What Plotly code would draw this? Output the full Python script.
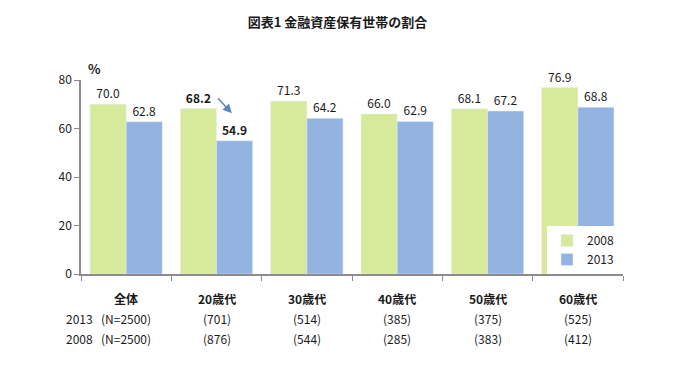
import plotly.graph_objects as go

categories = ["全体", "20歳代", "30歳代", "40歳代", "50歳代", "60歳代"]
values_2008 = [70.0, 68.2, 71.3, 66.0, 68.1, 76.9]
values_2013 = [62.8, 54.9, 64.2, 62.9, 67.2, 68.8]
n_2013 = ["(N=2500)", "(701)", "(514)", "(385)", "(375)", "(525)"]
n_2008 = ["(N=2500)", "(876)", "(544)", "(285)", "(383)", "(412)"]
y_ticks = [0, 20, 40, 60, 80]
highlight_idx = 1

FONT = "Noto Sans CJK JP, Liberation Sans, sans-serif"
GREEN = "#D7E99A"
BLUE = "#93B3E0"
AXIS = "#8C8C8C"
TXT = "#1a1a1a"


def labels(vals):
    out = []
    for i, v in enumerate(vals):
        s = f"{v:.1f}"
        out.append(f"<b>{s}</b>" if i == highlight_idx else s)
    return out


fig = go.Figure()
fig.add_trace(go.Bar(x=categories, y=values_2008, name="2008", marker_color=GREEN,
                     text=labels(values_2008), textposition="outside",
                     textfont=dict(size=12, color=TXT), cliponaxis=False))
fig.add_trace(go.Bar(x=categories, y=values_2013, name="2013", marker_color=BLUE,
                     text=labels(values_2013), textposition="outside",
                     textfont=dict(size=12, color=TXT), cliponaxis=False))

W, H = 675, 368
L, R, T, B = 81, 52, 80, 94
pw, ph = W - L - R, H - T - B

def px_to_paper_y(py):
    return (H - B - py) / ph

def px_to_paper_x(px):
    return (px - L) / pw

anns = []
for i, c in enumerate(categories):
    anns.append(dict(x=i, y=px_to_paper_y(298), xref="x", yref="paper", text=f"<b>{c}</b>",
                     showarrow=False, font=dict(size=12, color=TXT), xanchor="center", yanchor="middle"))
    anns.append(dict(x=i, y=px_to_paper_y(318), xref="x", yref="paper", text=n_2013[i],
                     showarrow=False, font=dict(size=12, color=TXT), xanchor="center", yanchor="middle"))
    anns.append(dict(x=i, y=px_to_paper_y(338), xref="x", yref="paper", text=n_2008[i],
                     showarrow=False, font=dict(size=12, color=TXT), xanchor="center", yanchor="middle"))
anns.append(dict(x=px_to_paper_x(79), y=px_to_paper_y(318), xref="paper", yref="paper", text="2013",
                 showarrow=False, font=dict(size=12, color=TXT), xanchor="center", yanchor="middle"))
anns.append(dict(x=px_to_paper_x(79), y=px_to_paper_y(338), xref="paper", yref="paper", text="2008",
                 showarrow=False, font=dict(size=12, color=TXT), xanchor="center", yanchor="middle"))
anns.append(dict(x=px_to_paper_x(94), y=px_to_paper_y(68), xref="paper", yref="paper", text="<b>%</b>",
                 showarrow=False, font=dict(size=13, color=TXT), xanchor="center", yanchor="middle"))
# arrow 68.2 -> 54.9
anns.append(dict(x=1.17, y=66.3, ax=1.0, ay=73.1, xref="x", yref="y", axref="x", ayref="y",
                 text="", showarrow=True, arrowhead=2, arrowsize=1.2, arrowwidth=1.5,
                 arrowcolor="#5B86C5"))

fig.update_layout(
    width=W, height=H,
    margin=dict(l=L, r=R, t=T, b=B),
    paper_bgcolor="white", plot_bgcolor="white",
    font=dict(family=FONT, size=12, color=TXT),
    title=dict(text="<b>図表1 金融資産保有世帯の割合</b>", x=0.5, xanchor="center",
               y=1 - 22 / H, yanchor="middle", yref="container",
               font=dict(size=13, color=TXT)),
    barmode="group", bargap=0.2, bargroupgap=0,
    showlegend=True,
    legend=dict(x=px_to_paper_x(547), y=px_to_paper_y(226), xanchor="left", yanchor="top",
                bgcolor="white", font=dict(size=12, color=TXT), tracegroupgap=2),
    annotations=anns,
)
fig.update_xaxes(showticklabels=False, ticks="outside", tickson="boundaries", ticklen=5,
                 tickcolor=AXIS, showline=True, linecolor=AXIS, linewidth=1.5,
                 showgrid=False)
fig.update_yaxes(range=[0, 80], tickvals=y_ticks, ticks="outside", ticklen=5, tickcolor=AXIS,
                 showline=True, linecolor=AXIS, linewidth=1.5, showgrid=False, zeroline=False,
                 tickfont=dict(size=12, color=TXT))

fig.write_html("out.html", config={"displayModeBar": False},
               post_script="document.body.style.margin='0';document.body.style.overflow='hidden';")
